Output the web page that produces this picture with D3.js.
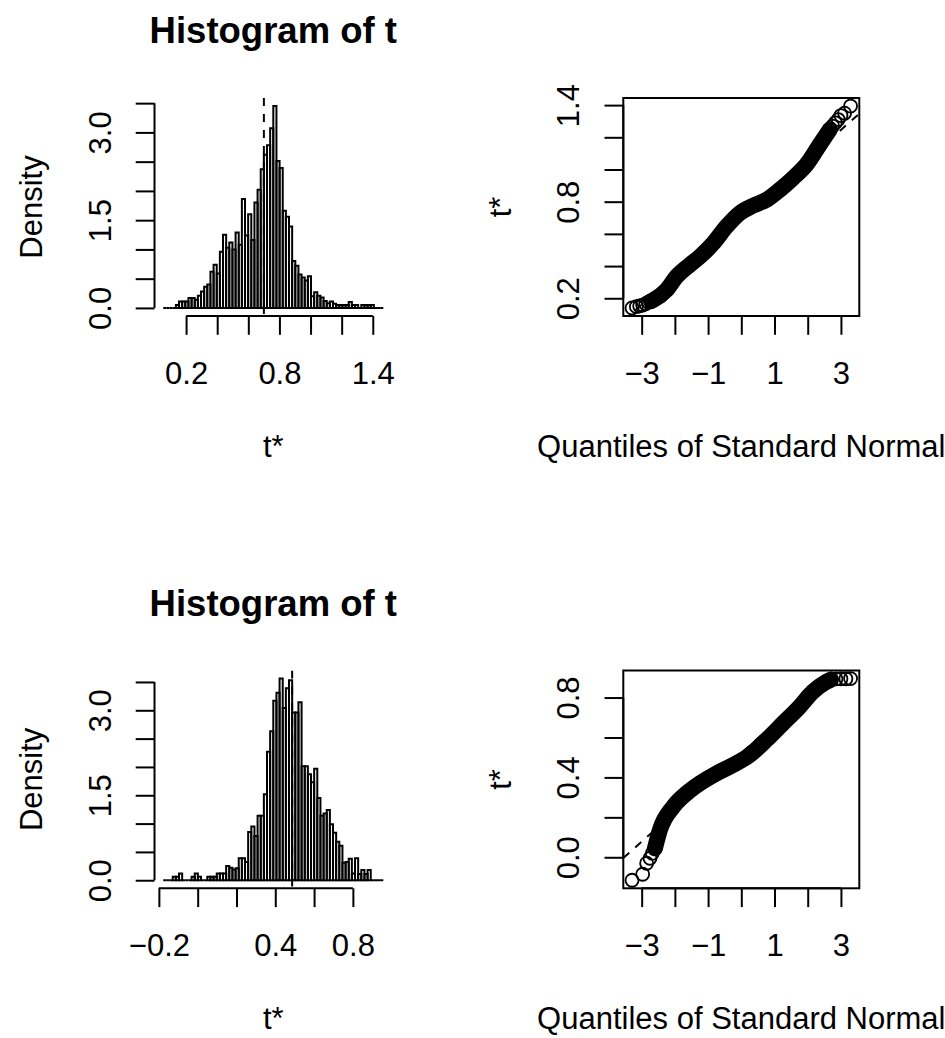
<!DOCTYPE html>
<html>
<head>
<meta charset="utf-8">
<script src="https://cdn.jsdelivr.net/npm/d3@7/dist/d3.min.js"></script>
<style>
  body { margin: 0; background: #ffffff; }
</style>
</head>
<body>
<script>
'use strict';

// ---- values ----

// first bootstrap: histogram of t* (density of each bin, bins start at hist1Start)
const hist1Start = 0.0536;
const hist1BinWidth = 0.0202;
const hist1Density = [
  0, 0, 0, 0, 0.05, 0.11, 0.11, 0.11, 0.17, 0.17,
  0.14, 0.21, 0.28, 0.36, 0.40, 0.62, 0.74, 0.59, 0.96, 1.25,
  1.03, 1.12, 1.00, 1.29, 1.08, 1.86, 1.24, 1.60, 1.16, 1.80,
  2.02, 2.37, 2.62, 2.78, 3.07, 3.45, 2.51, 2.39, 1.66, 1.56,
  1.39, 0.80, 0.72, 0.57, 0.52, 0.47, 0.54, 0.20, 0.27, 0.21,
  0.18, 0.12, 0.08, 0.11, 0.07, 0.05, 0.05, 0.05, 0.05, 0.10,
  0.05, 0.05, 0, 0.05, 0.05, 0.05, 0.05, 0, 0, 0
];
const hist1T0 = 0.70;
const hist1XTicks = [0.2, 0.4, 0.6, 0.8, 1.0, 1.2, 1.4];
const hist1XLabels = [0.2, 0.8, 1.4];

// second bootstrap: histogram of t*
const hist2Start = -0.1772;
const hist2BinWidth = 0.0162;
const hist2Density = [
  0, 0, 0, 0.06, 0.06, 0.12, 0, 0, 0, 0.06,
  0.12, 0.06, 0, 0, 0.06, 0.06, 0.06, 0.12, 0.12, 0.12,
  0.25, 0.22, 0.19, 0.21, 0.39, 0.39, 0.32, 0.85, 0.95, 0.78,
  1.14, 1.14, 1.52, 2.27, 2.63, 3.17, 3.31, 3.56, 3.04, 3.39,
  3.53, 2.96, 2.96, 3.14, 2.01, 2.01, 1.87, 1.73, 1.97, 1.45,
  1.14, 1.18, 1.24, 0.99, 0.84, 0.68, 0.61, 0.31, 0.32, 0.38,
  0.12, 0.39, 0.11, 0.18, 0.11, 0.18, 0, 0, 0, 0
];
const hist2T0 = 0.487;
const hist2XTicks = [-0.2, 0.0, 0.2, 0.4, 0.6, 0.8];
const hist2XLabels = [-0.2, 0.4, 0.8];

const densityTicks = [0, 0.5, 1.0, 1.5, 2.0, 2.5, 3.0, 3.5];
const densityLabels = [0, 1.5, 3.0];

// normal quantile plots: single circles in the tails, and the dense run of points
const qq1PointsTheo = [-3.29, -3.16, -3.06, -2.97, -2.88, -2.80, -2.72,
                       2.67, 2.75, 2.83, 2.92, 3.00, 3.11, 3.29];
const qq1PointsT = [0.140, 0.148, 0.152, 0.158, 0.166, 0.176, 0.182,
                    1.250, 1.270, 1.290, 1.310, 1.335, 1.350, 1.394];
const qq1BandTheo = [-2.72, -2.65, -2.25, -1.95, -1.55, -1.24, -0.84, -0.44, -0.04,
                     0.36, 0.77, 1.17, 1.57, 1.97, 2.37, 2.67];
const qq1BandT = [0.182, 0.189, 0.252, 0.335, 0.408, 0.460, 0.543, 0.647, 0.730,
                  0.776, 0.813, 0.876, 0.949, 1.032, 1.157, 1.250];
const qq1Line = { intercept: 0.703, slope: 0.181 };
const qq1YTicks = [0.2, 0.4, 0.6, 0.8, 1.0, 1.2, 1.4];
const qq1YLabels = [0.2, 0.8, 1.4];

const qq2PointsTheo = [-3.29, -2.97, -2.85, -2.75, -2.68, -2.60,
                       2.70, 2.85, 3.00, 3.15, 3.29];
const qq2PointsT = [-0.115, -0.085, -0.030, -0.005, 0.020, 0.045,
                    0.890, 0.893, 0.894, 0.894, 0.895];
const qq2BandTheo = [-2.60, -2.45, -2.05, -1.65, -1.25, -0.75, -0.25, 0.25,
                     0.75, 1.25, 1.75, 2.15, 2.55, 2.70];
const qq2BandT = [0.045, 0.137, 0.253, 0.320, 0.370, 0.420, 0.462, 0.512,
                  0.587, 0.670, 0.753, 0.828, 0.878, 0.890];
const qq2Line = { intercept: 0.522, slope: 0.148 };
const qq2YTicks = [0.0, 0.2, 0.4, 0.6, 0.8];
const qq2YLabels = [0.0, 0.4, 0.8];

const qqXTicks = [-3, -2, -1, 0, 1, 2, 3];
const qqXLabels = [-3, -1, 1, 3];

(function() {

  const fontFamily = '"Liberation Sans", Arial, Helvetica, sans-serif';
  const fontSize = 31;
  const tickLen = 18.8;

  let svg = d3.select('body')
    .append('svg')
    .attr('width', 945)
    .attr('height', 1038)
    .style('background', '#ffffff');

  // plot regions of the two rows
  let rows = [
    { top: 98, bottom: 316 },
    { top: 670.5, bottom: 888.3 }
  ];
  let histLeft = 154.5, histRight = 392.1;
  let qqLeft = 623.3, qqRight = 859.3;

  drawHistogram(rows[0], hist1Start, hist1BinWidth, hist1Density, hist1T0,
                hist1XTicks, hist1XLabels, 'c1');
  drawQQ(rows[0], qq1PointsTheo, qq1PointsT, qq1BandTheo, qq1BandT, qq1Line,
         qq1YTicks, qq1YLabels, 'c2');
  drawHistogram(rows[1], hist2Start, hist2BinWidth, hist2Density, hist2T0,
                hist2XTicks, hist2XLabels, 'c3');
  drawQQ(rows[1], qq2PointsTheo, qq2PointsT, qq2BandTheo, qq2BandT, qq2Line,
         qq2YTicks, qq2YLabels, 'c4');

  // true if value is one of the labelled ticks
  function hasLabel(labels, v) {
    return labels.some((l) => Math.abs(l - v) < 1e-9);
  }

  // R style axis: line only from first to last tick, labels upright below
  function bottomAxis(scale, ticks, labels, fmt, y) {
    let axis = d3.axisBottom(scale)
      .tickValues(ticks)
      .tickSize(tickLen)
      .tickSizeOuter(0)
      .tickFormat((d) => hasLabel(labels, d) ? fmt(d) : '');
    let g = svg.append('g')
      .attr('transform', `translate(0, ${y})`)
      .call(axis);
    g.attr('font-size', fontSize).attr('font-family', fontFamily).attr('stroke-width', 2);
    g.select('.domain').attr('d', `M${scale(ticks[0])},0H${scale(ticks[ticks.length - 1])}`);
    g.selectAll('.tick text').attr('y', 67.5).attr('dy', null).attr('fill', '#000');
    g.selectAll('.tick line').attr('stroke', '#000');
  }

  // R style left axis with labels turned to run along the axis
  function leftAxis(scale, ticks, labels, fmt, x) {
    let axis = d3.axisLeft(scale)
      .tickValues(ticks)
      .tickSize(tickLen)
      .tickSizeOuter(0)
      .tickFormat((d) => hasLabel(labels, d) ? fmt(d) : '');
    let g = svg.append('g')
      .attr('transform', `translate(${x}, 0)`)
      .call(axis);
    g.attr('font-size', fontSize).attr('font-family', fontFamily).attr('stroke-width', 2);
    g.select('.domain').attr('d', `M0,${scale(ticks[0])}V${scale(ticks[ticks.length - 1])}`);
    g.selectAll('.tick text')
      .attr('x', 0)
      .attr('dy', null)
      .attr('text-anchor', 'middle')
      .attr('fill', '#000')
      .attr('transform', 'translate(-44, 0) rotate(-90)');
  }

  function addClip(id, x0, x1, row) {
    svg.append('clipPath').attr('id', id)
      .append('rect')
      .attr('x', x0).attr('y', row.top)
      .attr('width', x1 - x0).attr('height', row.bottom - row.top);
  }

  function label(text, x, y, opts) {
    let t = svg.append('text')
      .attr('x', x)
      .attr('y', y)
      .attr('text-anchor', 'middle')
      .attr('font-family', fontFamily)
      .attr('font-size', opts.size || fontSize)
      .attr('font-weight', opts.bold ? 'bold' : 'normal')
      .attr('fill', '#000')
      .text(text);
    if (opts.rotate) t.attr('transform', `rotate(-90, ${x}, ${y})`);
    return t;
  }

  // histogram of t* with dashed line at t0
  function drawHistogram(row, start, binWidth, density, t0, xTicks, xLabels, clipId) {
    let end = start + density.length * binWidth;
    let pad = 0.04 * (end - start);
    let xScale = d3.scaleLinear()
      .domain([start - pad, end + pad])
      .range([histLeft, histRight]);

    let yMax = d3.max(density);
    let yScale = d3.scaleLinear()
      .domain([-0.04 * yMax, 1.04 * yMax])
      .range([row.bottom, row.top]);

    // bars drawn as paths so empty bins still leave a line on the base
    svg.append('g').selectAll('path')
      .data(density)
      .enter()
      .append('path')
      .attr('d', (d, i) => {
        let x0 = xScale(start + i * binWidth);
        let x1 = xScale(start + (i + 1) * binWidth);
        let y0 = yScale(0), y1 = yScale(d);
        return `M${x0},${y0}V${y1}H${x1}V${y0}Z`;
      })
      .attr('fill', 'none')
      .attr('stroke', '#000')
      .attr('stroke-width', 2);

    addClip(clipId, histLeft, histRight, row);
    svg.append('line')
      .attr('clip-path', `url(#${clipId})`)
      .attr('x1', xScale(t0)).attr('x2', xScale(t0))
      .attr('y1', row.top).attr('y2', row.bottom)
      .attr('stroke', '#000')
      .attr('stroke-width', 2)
      .attr('stroke-dasharray', '8,8');

    bottomAxis(xScale, xTicks, xLabels, d3.format('.1f'), row.bottom);
    leftAxis(yScale, densityTicks, densityLabels, d3.format('.1f'), histLeft);

    let cx = (histLeft + histRight) / 2;
    label('Histogram of t', cx, row.top - 55, { size: 36.5, bold: true });
    label('t*', cx, row.bottom + 141, {});
    label('Density', 42, (row.top + row.bottom) / 2, { rotate: true });
  }

  // normal quantile plot of t* with dashed reference line
  function drawQQ(row, ptTheo, ptT, bandTheo, bandT, refLine, yTicks, yLabels, clipId) {
    let xExt = d3.extent(ptTheo.concat(bandTheo));
    let yExt = d3.extent(ptT.concat(bandT));
    let xPad = 0.04 * (xExt[1] - xExt[0]);
    let yPad = 0.04 * (yExt[1] - yExt[0]);
    let xScale = d3.scaleLinear()
      .domain([xExt[0] - xPad, xExt[1] + xPad])
      .range([qqLeft, qqRight]);
    let yScale = d3.scaleLinear()
      .domain([yExt[0] - yPad, yExt[1] + yPad])
      .range([row.bottom, row.top]);

    addClip(clipId, qqLeft, qqRight, row);
    let plot = svg.append('g').attr('clip-path', `url(#${clipId})`);

    // dense middle of the sample: overlapping circles merge into a solid band
    let band = d3.line()
      .x((d, i) => xScale(bandTheo[i]))
      .y((d, i) => yScale(bandT[i]))
      .curve(d3.curveMonotoneX);
    plot.append('path')
      .datum(bandTheo)
      .attr('d', band)
      .attr('fill', 'none')
      .attr('stroke', '#000')
      .attr('stroke-width', 16)
      .attr('stroke-linecap', 'round')
      .attr('stroke-linejoin', 'round');

    plot.selectAll('circle')
      .data(ptTheo)
      .enter()
      .append('circle')
      .attr('cx', (d) => xScale(d))
      .attr('cy', (d, i) => yScale(ptT[i]))
      .attr('r', 6.5)
      .attr('fill', 'none')
      .attr('stroke', '#000')
      .attr('stroke-width', 1.8);

    let xd = xScale.domain();
    plot.append('line')
      .attr('x1', xScale(xd[0]))
      .attr('y1', yScale(refLine.intercept + refLine.slope * xd[0]))
      .attr('x2', xScale(xd[1]))
      .attr('y2', yScale(refLine.intercept + refLine.slope * xd[1]))
      .attr('stroke', '#000')
      .attr('stroke-width', 2)
      .attr('stroke-dasharray', '8,8');

    svg.append('rect')
      .attr('x', qqLeft).attr('y', row.top)
      .attr('width', qqRight - qqLeft).attr('height', row.bottom - row.top)
      .attr('fill', 'none')
      .attr('stroke', '#000')
      .attr('stroke-width', 2);

    bottomAxis(xScale, qqXTicks, qqXLabels, d3.format('d'), row.bottom);
    leftAxis(yScale, yTicks, yLabels, d3.format('.1f'), qqLeft);

    let cx = (qqLeft + qqRight) / 2;
    label('Quantiles of Standard Normal', cx, row.bottom + 141, {});
    label('t*', qqLeft - 112.5, (row.top + row.bottom) / 2, { rotate: true });
  }

})();
</script>
</body>
</html>
